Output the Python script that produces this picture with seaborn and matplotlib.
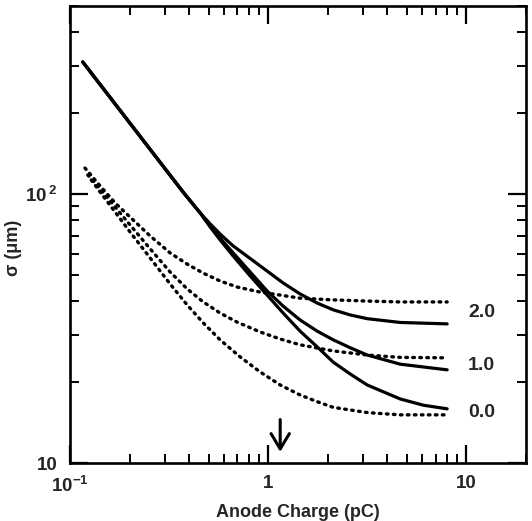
import numpy as np
import pandas as pd
import matplotlib
matplotlib.use("Agg")
import matplotlib.pyplot as plt
import seaborn as sns
from matplotlib.ticker import FixedLocator, FixedFormatter, LogLocator, NullFormatter

# ---- data (anode charge in pC, sigma in um) ----
labels = ["2.0", "1.0", "0.0"]

solid_20_x = [0.116, 0.169, 0.254, 0.372, 0.454, 0.510, 0.572, 0.666, 0.811, 0.988,
              1.19, 1.45, 1.77, 2.13, 2.60, 3.16, 4.64, 8.0]
solid_20_y = [309.6, 216.1, 146.4, 101.7, 85.0, 77.4, 71.0, 64.1, 57.6, 51.7,
              46.7, 42.5, 39.3, 37.1, 35.5, 34.4, 33.3, 32.9]

solid_10_x = [0.116, 0.169, 0.254, 0.372, 0.454, 0.510, 0.572, 0.666, 0.811, 0.988,
              1.19, 1.45, 1.77, 2.13, 2.60, 3.16, 4.64, 8.0]
solid_10_y = [309.6, 216.1, 146.4, 101.7, 85.0, 76.0, 68.6, 60.4, 51.3, 43.6,
              38.3, 34.0, 30.9, 28.7, 26.8, 25.2, 23.3, 22.2]

solid_00_x = [0.116, 0.169, 0.254, 0.372, 0.454, 0.510, 0.572, 0.666, 0.811, 0.988,
              1.19, 1.45, 1.77, 2.13, 2.60, 3.16, 4.64, 6.07, 8.0]
solid_00_y = [309.6, 216.1, 146.4, 101.7, 85.0, 75.4, 67.5, 58.8, 49.6, 42.1,
              36.1, 30.9, 27.0, 23.7, 21.4, 19.5, 17.3, 16.4, 15.9]

dot_20_x = [0.119, 0.142, 0.169, 0.203, 0.254, 0.320, 0.390, 0.470, 0.572, 0.697,
            0.911, 1.15, 1.45, 2.13, 3.16, 4.64, 8.0]
dot_20_y = [124.9, 107.1, 92.6, 81.5, 69.8, 60.4, 54.9, 50.8, 47.5, 45.1,
            43.2, 42.1, 41.0, 40.4, 40.0, 39.7, 39.7]

dot_10_x = [0.123, 0.142, 0.169, 0.201, 0.254, 0.320, 0.390, 0.470, 0.572, 0.697,
            0.911, 1.15, 1.45, 2.13, 3.16, 4.64, 8.0]
dot_10_y = [117.7, 104.4, 89.5, 76.7, 62.5, 51.3, 44.4, 39.7, 36.1, 33.4,
            30.7, 28.9, 27.5, 26.1, 25.2, 24.7, 24.6]

dot_00_x = [0.128, 0.142, 0.169, 0.201, 0.254, 0.320, 0.390, 0.470, 0.572, 0.722,
            0.911, 1.15, 1.45, 1.77, 2.13, 3.16, 4.64, 8.0]
dot_00_y = [112.7, 101.7, 85.7, 72.2, 57.8, 46.3, 38.7, 33.2, 28.7, 24.8,
            21.8, 19.5, 17.9, 16.9, 16.1, 15.4, 15.1, 15.1]

label_x = [10.2, 10.2, 10.2]
label_y = [36.4, 23.1, 15.4]

arrow_x = 1.15
arrow_y_from = 14.5
arrow_y_to = 11.0

x_ticks = [0.1, 1, 10]
x_ticklabels = [r"$\mathregular{10^{-1}}$", "1", "10"]
y_ticks = [10, 100]
y_ticklabels = ["10", r"$\mathregular{10^{\,2}}$"]

# ---- styling ----
sns.set_style("ticks")
plt.rcParams["font.family"] = ["Liberation Sans", "DejaVu Sans"]
plt.rcParams["font.weight"] = "bold"
plt.rcParams["mathtext.default"] = "regular"

fig = plt.figure(figsize=(5.32, 5.21), dpi=100)
ax = fig.add_axes([70 / 532, 1 - 463 / 521, 456 / 532, 457 / 521])

solid_sets = [(solid_20_x, solid_20_y), (solid_10_x, solid_10_y), (solid_00_x, solid_00_y)]
dot_sets = [(dot_20_x, dot_20_y), (dot_10_x, dot_10_y), (dot_00_x, dot_00_y)]

for lab, (xs, ys) in zip(labels, solid_sets):
    df = pd.DataFrame({"Q": xs, "sigma": ys})
    sns.lineplot(data=df, x="Q", y="sigma", ax=ax, color="black", lw=2.3,
                 solid_capstyle="round", solid_joinstyle="round", sort=True, estimator=None)

for lab, (xs, ys) in zip(labels, dot_sets):
    df = pd.DataFrame({"Q": xs, "sigma": ys})
    sns.lineplot(data=df, x="Q", y="sigma", ax=ax, color="black", lw=2.4,
                 linestyle=(0, (0.5, 1.6)), dash_capstyle="round", sort=True, estimator=None)

ax.set_xscale("log")
ax.set_yscale("log")
ax.set_xlim(0.1, 20)
ax.set_ylim(10, 500)

ax.xaxis.set_major_locator(FixedLocator(x_ticks))
ax.xaxis.set_major_formatter(FixedFormatter(x_ticklabels))
ax.yaxis.set_major_locator(FixedLocator(y_ticks))
ax.yaxis.set_major_formatter(FixedFormatter(y_ticklabels))
ax.xaxis.set_minor_locator(LogLocator(base=10, subs=np.arange(2, 10), numticks=20))
ax.yaxis.set_minor_locator(LogLocator(base=10, subs=np.arange(2, 10), numticks=20))
ax.xaxis.set_minor_formatter(NullFormatter())
ax.yaxis.set_minor_formatter(NullFormatter())

ax.tick_params(which="both", direction="in", top=True, right=True, color="black")
ax.tick_params(which="major", length=13, width=1.6, labelsize=13.5)
ax.tick_params(which="minor", length=6.5, width=1.4)
ax.tick_params(axis="x", which="major", pad=9)
ax.tick_params(axis="y", which="major", pad=9)

for s in ax.spines.values():
    s.set_linewidth(1.9)
    s.set_color("black")

for lx, ly, lab in zip(label_x, label_y, labels):
    ax.text(lx, ly, lab, fontsize=14, fontweight="bold", ha="left", va="center")

ax.annotate("", xy=(arrow_x, arrow_y_to), xytext=(arrow_x, arrow_y_from),
            arrowprops=dict(arrowstyle="->,head_length=0.5,head_width=0.3", lw=2.2,
                            color="black", mutation_scale=22, shrinkA=0, shrinkB=0))

ax.set_xlabel("Anode Charge (pC)", fontsize=13, fontweight="bold")
ax.set_ylabel("σ (μm)", fontsize=13, fontweight="bold")
ax.xaxis.set_label_coords(0.5, -0.09)
ax.yaxis.set_label_coords(-0.105, 0.47)

fig.savefig("out.png", dpi=100)
